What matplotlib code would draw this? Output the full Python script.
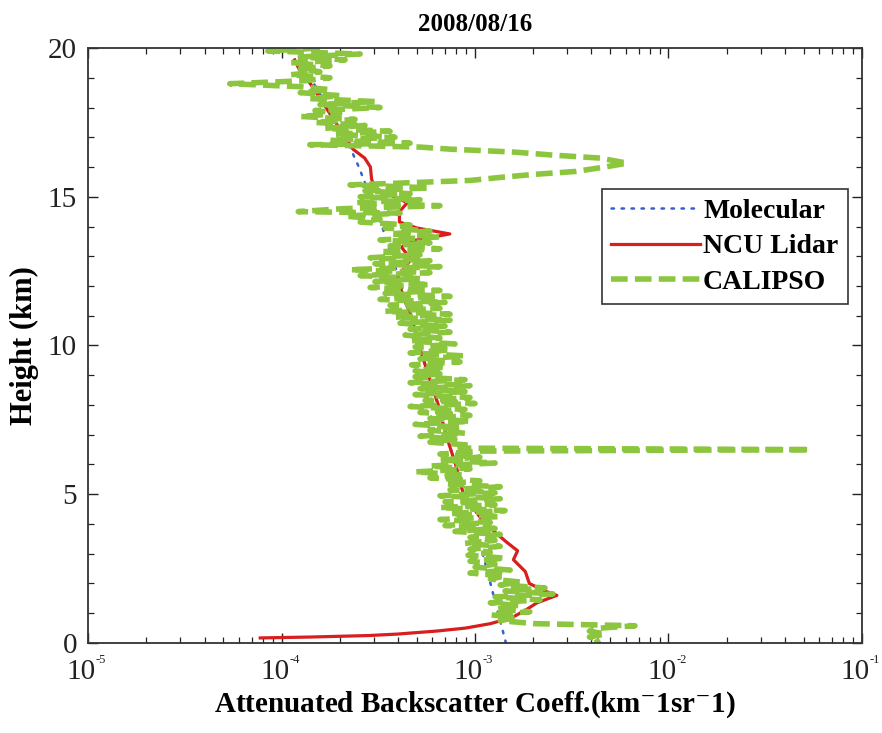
import numpy as np
import matplotlib.pyplot as plt
from matplotlib.ticker import MultipleLocator, FixedLocator, NullFormatter

plt.rcParams['font.family'] = ['Liberation Serif', 'DejaVu Serif']
plt.rcParams['mathtext.fontset'] = 'stix'

# --- data (backscatter in units of 1e-3 km^-1 sr^-1, height in km) ---
mol_h = [0, 1, 2, 3, 4, 5, 6, 7, 8, 9, 10, 11, 12, 13, 14, 15, 16, 17, 18, 19, 20]
mol_val = [1.445, 1.318, 1.202, 1.096, 0.977, 0.871, 0.794, 0.708, 0.646, 0.575, 0.513,
           0.468, 0.417, 0.372, 0.331, 0.288, 0.251, 0.214, 0.174, 0.141, 0.115]

ncu_h = [0.17, 0.20, 0.25, 0.30, 0.40, 0.50, 0.65, 0.85, 1.10, 1.35, 1.60, 1.75, 2.00,
         2.40, 2.80, 3.10, 3.40, 3.80, 4.20, 5.0, 6.0, 7.0, 8.0, 9.0, 10.0, 11.0, 11.6,
         12.3, 12.9, 13.3, 13.5, 13.75, 13.95, 14.15, 14.5, 14.8, 14.95, 15.3, 15.6,
         16.0, 16.3, 16.6, 17.0, 17.6, 18.2, 18.8, 19.3, 19.6]
ncu_val = [0.0776, 0.141, 0.282, 0.398, 0.631, 0.891, 1.20, 1.55, 1.82, 2.09, 2.65, 2.29,
           1.91, 1.82, 1.58, 1.66, 1.45, 1.23, 1.07, 0.871, 0.794, 0.708, 0.646, 0.575,
           0.513, 0.468, 0.427, 0.398, 0.468, 0.417, 0.457, 0.741, 0.501, 0.407, 0.407,
           0.447, 0.398, 0.302, 0.292, 0.288, 0.269, 0.234, 0.214, 0.186, 0.162, 0.141,
           0.123, 0.117]

cal_h = [20.0, 19.9, 19.8, 19.7, 19.6, 19.5, 19.4, 19.3, 19.2, 19.1, 19.0, 18.9, 18.8,
         18.7, 18.6, 18.5, 18.4, 18.3, 18.2, 18.1, 18.0, 17.9, 17.8, 17.7, 17.6, 17.5,
         17.4, 17.3, 17.2, 17.1, 17.0, 16.9, 16.8, 16.75, 16.67,
         16.6, 16.5, 16.4, 16.3, 16.13, 16.0, 15.85, 15.75, 15.65, 15.55, 15.46,
         15.4, 15.3, 15.2, 15.1, 15.0, 14.9, 14.8, 14.7, 14.6, 14.5, 14.45, 14.35, 14.25,
         14.15, 14.05, 13.95, 13.85, 13.75, 13.65, 13.55, 13.45, 13.35, 13.25, 13.15,
         13.05, 12.95, 12.85, 12.75, 12.65, 12.55, 12.45, 12.35, 12.25, 12.15, 12.05,
         11.95, 11.85, 11.75, 11.65, 11.55, 11.45, 11.35, 11.25, 11.15, 11.05, 10.95,
         10.85, 10.75, 10.65, 10.55, 10.45, 10.35, 10.25, 10.15, 10.05, 9.95, 9.85, 9.75,
         9.65, 9.55, 9.45, 9.35, 9.25, 9.15, 9.05, 8.95, 8.85, 8.75, 8.65, 8.55, 8.45,
         8.35, 8.25, 8.15, 8.05, 7.95, 7.85, 7.75, 7.65, 7.55, 7.45, 7.35, 7.25, 7.15,
         7.05, 6.95, 6.85, 6.75, 6.65, 6.55, 6.50, 6.45, 6.35, 6.25, 6.15, 6.05, 5.95,
         5.85, 5.75, 5.65, 5.55, 5.45, 5.35, 5.25, 5.15, 5.05, 4.95, 4.85, 4.75, 4.65,
         4.55, 4.45, 4.35, 4.25, 4.15, 4.05, 3.95, 3.85, 3.75, 3.65, 3.55, 3.45, 3.35,
         3.25, 3.15, 3.05, 2.95, 2.85, 2.75, 2.65, 2.55, 2.45, 2.35, 2.25, 2.15, 2.05,
         1.95, 1.85, 1.75, 1.65, 1.55, 1.45, 1.35, 1.25, 1.15, 1.05, 0.95, 0.85, 0.75,
         0.65, 0.58, 0.50, 0.40, 0.30, 0.20, 0.10, 0.0]
cal_val = [0.158, 0.085, 0.255, 0.125, 0.213, 0.111, 0.178, 0.125, 0.158, 0.111, 0.178,
           0.132, 0.054, 0.125, 0.178, 0.125, 0.200, 0.140, 0.304, 0.158, 0.323, 0.149,
           0.200, 0.125, 0.240, 0.149, 0.270, 0.168, 0.364, 0.189, 0.386, 0.178, 0.462,
           0.140, 0.520,
           0.743, 1.61, 2.53, 4.43, 6.11, 4.70, 3.30, 2.00, 1.35, 0.95, 0.410,
           0.226, 0.585, 0.270, 0.462, 0.255, 0.520, 0.240, 0.659, 0.208, 0.122, 0.410,
           0.213, 0.323, 0.255, 0.462, 0.343, 0.585, 0.364, 0.659, 0.323, 0.585, 0.364,
           0.659, 0.323, 0.520, 0.287, 0.585, 0.304, 0.659, 0.226, 0.585, 0.255, 0.520,
           0.304, 0.585, 0.287, 0.659, 0.343, 0.743, 0.323, 0.700, 0.364, 0.659, 0.343,
           0.743, 0.386, 0.743, 0.410, 0.700, 0.462, 0.743, 0.435, 0.659, 0.462, 0.788,
           0.490, 0.743, 0.462, 0.888, 0.520, 0.837, 0.470, 0.700, 0.490, 0.659, 0.490,
           0.888, 0.462, 0.942, 0.520, 0.888, 0.490, 0.942, 0.552, 1.00, 0.462, 0.888,
           0.520, 0.942, 0.585, 0.942, 0.490, 0.837, 0.585, 0.888, 0.520, 0.788, 0.585,
           0.942, 0.837, 53.9, 1.06, 0.659, 1.06, 0.659, 1.27, 0.585, 0.942, 0.490, 0.888,
           0.585, 1.06, 0.700, 1.35, 0.743, 1.27, 0.659, 1.35, 0.700, 1.27, 0.659, 1.43,
           0.743, 1.35, 0.659, 1.20, 0.700, 1.27, 0.788, 1.35, 0.942, 1.27, 0.888, 1.35,
           0.942, 1.20, 0.920, 1.43, 0.942, 1.27, 1.00, 1.52, 0.942, 1.43, 1.20, 1.71,
           1.35, 2.30, 1.43, 2.53, 1.27, 2.17, 1.20, 1.71, 1.27, 1.92, 1.20, 1.61, 1.35,
           2.04, 6.71, 4.43, 3.90, 4.70, 3.90, 4.43, 4.17]

x_ticks = [1e-5, 1e-4, 1e-3, 1e-2, 1e-1]
x_exponents = ['-5', '-4', '-3', '-2', '-1']

scale = 1e-3

fig, ax = plt.subplots(figsize=(8.82, 7.33), dpi=100)
fig.subplots_adjust(left=0.0998, right=0.9773, bottom=0.1228, top=0.9345)

ax.plot(np.array(mol_val) * scale, mol_h, color='#3a5fcd', linestyle=(0, (1, 3)),
        linewidth=1.8, dash_capstyle='round', label='Molecular')
ax.plot(np.array(ncu_val) * scale, ncu_h, color='#d81e1e', linewidth=2.3,
        label='NCU Lidar')
ax.plot(np.array(cal_val) * scale, cal_h, color='#8cc63f', linewidth=4.0,
        dashes=(3, 1.3), label='CALIPSO')

ax.set_xscale('log')
ax.set_xlim(1e-5, 1e-1)
ax.set_ylim(0, 20)
ax.xaxis.set_major_locator(FixedLocator(x_ticks))
ax.xaxis.set_major_formatter(NullFormatter())
ax.yaxis.set_major_locator(MultipleLocator(5))
ax.yaxis.set_minor_locator(MultipleLocator(1))
ax.tick_params(which='both', direction='in', top=True, right=True, labelsize=21,
               colors='#222222')
ax.tick_params(which='major', length=7, width=1.0, pad=8)
ax.tick_params(which='minor', length=4, width=0.9)
for s in ax.spines.values():
    s.set_color('#333333')
    s.set_linewidth(1.3)

# x tick labels: "10" with a small exponent, as in the original
for xt, ex in zip(x_ticks, x_exponents):
    ax.annotate('10', xy=(xt, 0), xycoords=('data', 'axes fraction'),
                xytext=(-5, -21), textcoords='offset points',
                ha='center', va='center', fontsize=21, color='#222222')
    ax.annotate(ex, xy=(xt, 0), xycoords=('data', 'axes fraction'),
                xytext=(5.5, -12), textcoords='offset points',
                ha='left', va='center', fontsize=9, color='#222222')

ax.set_title('2008/08/16', fontsize=18, fontweight='bold', pad=12)
ax.set_xlabel(r'Attenuated Backscatter Coeff.(km$^{\mathrm{-}}$1sr$^{\mathrm{-}}$1)',
              fontsize=21, fontweight='bold', va='center')
ax.xaxis.set_label_coords(0.5, -0.103)
ax.set_ylabel('Height (km)', fontsize=22, fontweight='bold', labelpad=6)

leg = ax.legend(loc='upper right', bbox_to_anchor=(0.982, 0.763), borderaxespad=0,
                fancybox=False, edgecolor='#333333', framealpha=1,
                prop={'size': 20, 'weight': 'bold'}, handlelength=3.2,
                handletextpad=0.1, labelspacing=0.35, borderpad=0.35)
leg.get_frame().set_linewidth(1.2)

fig.savefig('out.png', dpi=100)
